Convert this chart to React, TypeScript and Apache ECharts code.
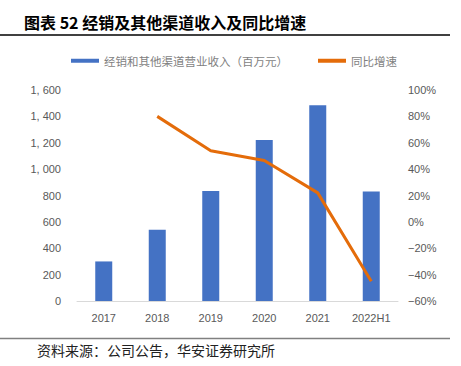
import React, { useEffect, useRef } from "react";
import * as echarts from "echarts";

const categories = ["2017", "2018", "2019", "2020", "2021", "2022H1"];
const revenue = [300, 540, 835, 1220, 1485, 830];
const growth = [null, 80, 54, 46.5, 22, -45];
const barName = "经销和其他渠道营业收入（百万元）";
const lineName = "同比增速";
const titleText = "图表 52 经销及其他渠道收入及同比增速";
const sourceText = "资料来源：公司公告，华安证券研究所";

export default function App() {
  const ref = useRef<HTMLDivElement>(null);
  useEffect(() => {
    if (!ref.current) return;
    const chart = echarts.init(ref.current, null, { renderer: "svg" });
    const labelColor = "#595959";
    const font = "'Liberation Sans', Arial, sans-serif";
    chart.setOption({
      animation: false,
      backgroundColor: "#ffffff",
      graphic: [
        {
          type: "text",
          left: 24,
          top: 14,
          style: {
            text: titleText,
            fontSize: 16,
            fontWeight: "bold",
            fill: "#000000",
            fontFamily: "'Noto Sans CJK SC', sans-serif",
          },
        },
        {
          type: "line",
          shape: { x1: 0, y1: 35, x2: 450, y2: 35 },
          style: { stroke: "#000000", lineWidth: 1.5 },
        },
        {
          type: "line",
          shape: { x1: 0, y1: 338.5, x2: 450, y2: 338.5 },
          style: { stroke: "#808080", lineWidth: 1.5 },
        },
        {
          type: "text",
          left: 37,
          top: 343,
          style: {
            text: sourceText,
            fontSize: 14,
            fill: "#222222",
            fontFamily: "'Noto Sans CJK SC', sans-serif",
          },
        },
      ],
      legend: {
        top: 55,
        left: 71,
        padding: 0,
        itemGap: 30,
        itemWidth: 28,
        itemHeight: 4,
        textStyle: {
          fontSize: 11.5,
          color: "#7f7f7f",
          fontFamily: "'Noto Sans CJK SC', sans-serif",
        },
        data: [
          { name: barName, icon: "rect" },
          { name: lineName, icon: "rect", itemStyle: { color: "#E46C0A" } },
        ],
      },
      grid: { left: 77, top: 90, width: 321, height: 211 },
      xAxis: {
        type: "category",
        data: categories,
        axisLine: { lineStyle: { color: "#D9D9D9", width: 1 } },
        axisTick: { show: false },
        axisLabel: { color: labelColor, fontSize: 11, margin: 11, fontFamily: font },
      },
      yAxis: [
        {
          type: "value",
          min: 0,
          max: 1600,
          interval: 200,
          splitLine: { show: false },
          axisLine: { show: false },
          axisTick: { show: false },
          axisLabel: {
            color: labelColor,
            fontSize: 11,
            margin: 16,
            fontFamily: font,
            formatter: (v: number) => (v >= 1000 ? Math.floor(v / 1000) + ", " + String(v % 1000).padStart(3, "0") : String(v)),
          },
        },
        {
          type: "value",
          min: -60,
          max: 100,
          interval: 20,
          splitLine: { show: false },
          axisLine: { show: false },
          axisTick: { show: false },
          axisLabel: {
            color: labelColor,
            fontSize: 11,
            margin: 10,
            fontFamily: font,
            formatter: (v: number) => (v < 0 ? "−" + Math.abs(v) + "%" : v + "%"),
          },
        },
      ],
      series: [
        {
          name: barName,
          type: "bar",
          data: revenue,
          barWidth: 17,
          itemStyle: { color: "#4472C4" },
        },
        {
          name: lineName,
          type: "line",
          yAxisIndex: 1,
          data: growth,
          symbol: "none",
          lineStyle: { color: "#E46C0A", width: 3 },
          itemStyle: { color: "#E46C0A" },
        },
      ],
    });
    return () => chart.dispose();
  }, []);
  return <div ref={ref} style={{ position: "fixed", left: 0, top: 0, width: 461, height: 366 }} />;
}
